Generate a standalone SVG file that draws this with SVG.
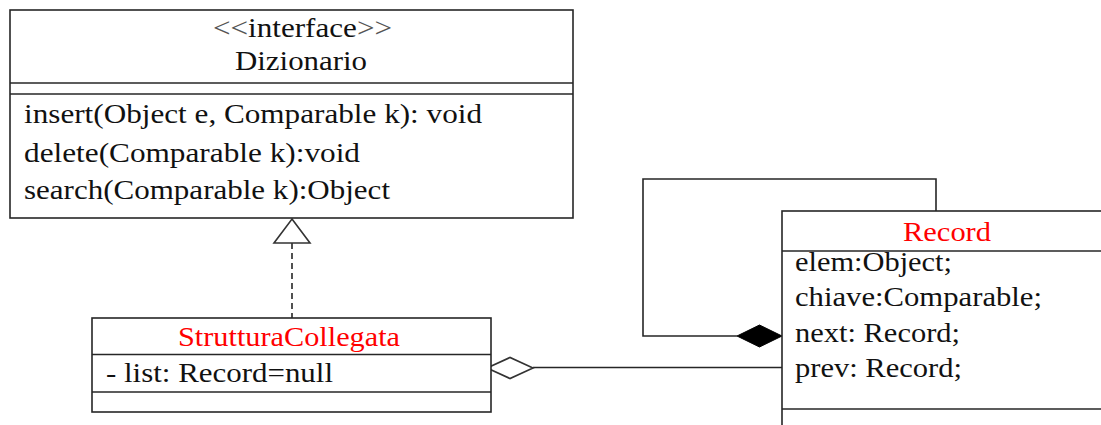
<svg xmlns="http://www.w3.org/2000/svg" width="1101" height="425" viewBox="0 0 1101 425">
<style>
.box{fill:#fff;stroke:#262626;stroke-width:1.6}
.ln{stroke:#262626;stroke-width:1.6;fill:none}
.t{font-family:"Liberation Serif","Times New Roman",serif;font-size:27px;fill:#111}
.r{fill:#ff0000}
.g{fill:#555}
</style>
<rect width="1101" height="425" fill="#fff"/>
<g id="connectors">
  <path class="ln" d="M936,211 V179 H643 V336 H737"/>
  <polygon points="737,336 759.5,325 782,336 759.5,347" fill="#000" stroke="#000" stroke-width="1"/>
  <line class="ln" x1="533" y1="367.5" x2="782" y2="367.5"/>
  <polygon points="487,368 510,357.5 533,368 510,378.5" fill="#fff" stroke="#333" stroke-width="1.6"/>
  <line class="ln" x1="292" y1="243" x2="292" y2="318" stroke-dasharray="6,4"/>
  <polygon points="292,219 310,243 274,243" fill="#fff" stroke="#333" stroke-width="1.6"/>
</g>
<g id="dizionario">
  <rect class="box" x="10" y="10" width="563" height="208"/>
  <line class="ln" x1="10" y1="83" x2="573" y2="83"/>
  <line class="ln" x1="10" y1="94" x2="573" y2="94"/>
  <text class="t" x="213" y="37" textLength="179" lengthAdjust="spacingAndGlyphs"><tspan class="g">&lt;&lt;</tspan>interface<tspan class="g">&gt;&gt;</tspan></text>
  <text class="t" x="235" y="70" textLength="132" lengthAdjust="spacingAndGlyphs">Dizionario</text>
  <text class="t" x="24" y="123" textLength="458" lengthAdjust="spacingAndGlyphs">insert(Object e, Comparable k): void</text>
  <text class="t" x="24" y="162" textLength="336" lengthAdjust="spacingAndGlyphs">delete(Comparable k):void</text>
  <text class="t" x="24" y="199" textLength="366" lengthAdjust="spacingAndGlyphs">search(Comparable k):Object</text>
</g>
<g id="strutturaCollegata">
  <rect class="box" x="92" y="318" width="399" height="94"/>
  <line class="ln" x1="92" y1="354.5" x2="491" y2="354.5"/>
  <line class="ln" x1="92" y1="392" x2="491" y2="392"/>
  <text class="t r" x="178" y="346" textLength="222" lengthAdjust="spacingAndGlyphs">StrutturaCollegata</text>
  <text class="t" x="106" y="382" textLength="227" lengthAdjust="spacingAndGlyphs">- list: Record=null</text>
</g>
<g id="record">
  <rect class="box" x="782" y="211" width="340" height="230"/>
  <line class="ln" x1="782" y1="251" x2="1110" y2="251"/>
  <line class="ln" x1="782" y1="409" x2="1110" y2="409"/>
  <text class="t r" x="903" y="241" textLength="88" lengthAdjust="spacingAndGlyphs">Record</text>
  <text class="t" x="795" y="271" textLength="157" lengthAdjust="spacingAndGlyphs">elem:Object;</text>
  <text class="t" x="795" y="306" textLength="247" lengthAdjust="spacingAndGlyphs">chiave:Comparable;</text>
  <text class="t" x="795" y="342" textLength="165" lengthAdjust="spacingAndGlyphs">next: Record;</text>
  <text class="t" x="795" y="377" textLength="167" lengthAdjust="spacingAndGlyphs">prev: Record;</text>
</g>
</svg>
